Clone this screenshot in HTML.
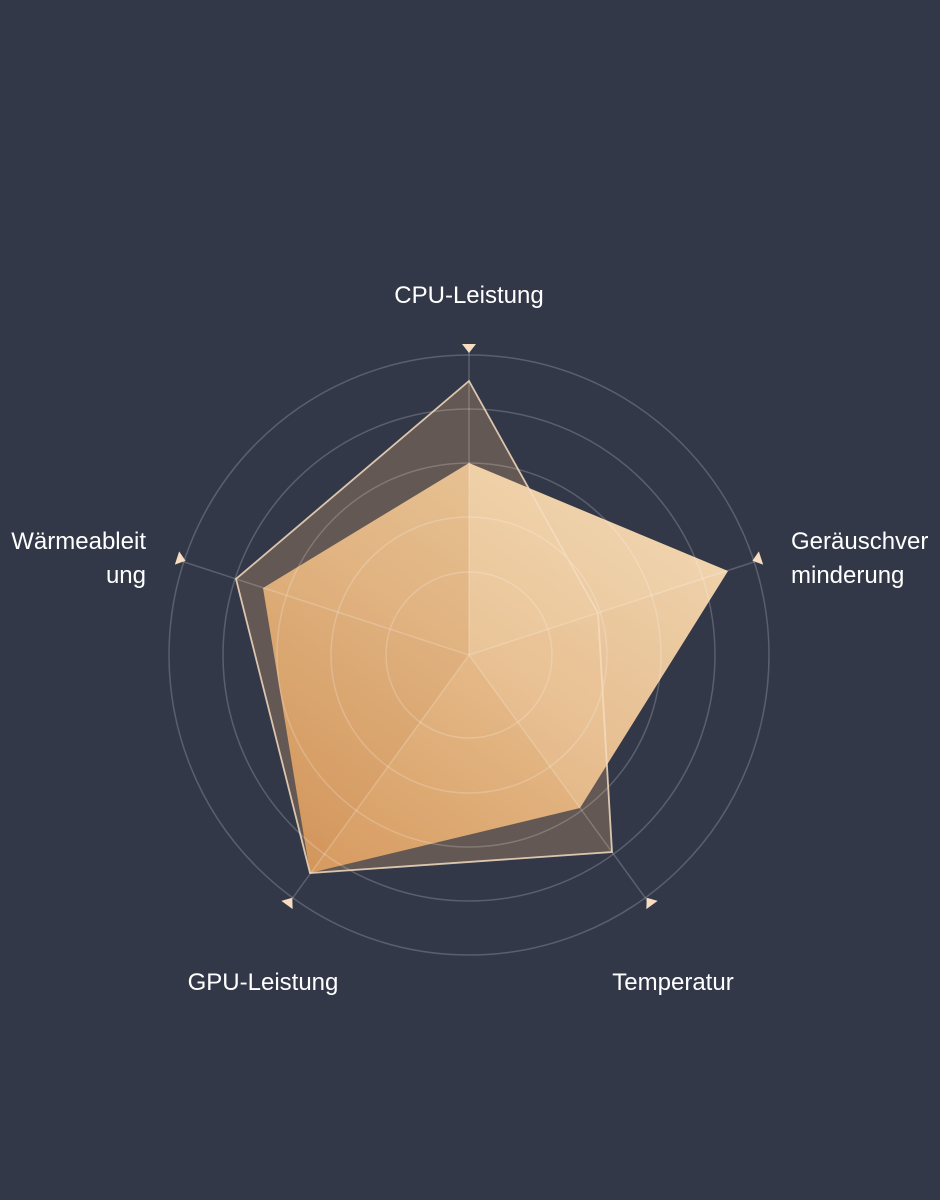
<!DOCTYPE html>
<html><head><meta charset="utf-8"><style>
html,body{margin:0;padding:0;background:#323848;}
svg{display:block}
text{font-family:"Liberation Sans","DejaVu Sans",sans-serif;font-size:24px;fill:#ffffff}
</style></head><body>
<svg width="940" height="1200" viewBox="0 0 940 1200" xmlns="http://www.w3.org/2000/svg">
<defs>
<linearGradient id="og" x1="0.1" y1="1" x2="0.9" y2="0">
<stop offset="0" stop-color="#da9c60"/>
<stop offset="0.5" stop-color="#e9bd8a"/>
<stop offset="1" stop-color="#f6d8af"/>
</linearGradient>
</defs>
<rect width="940" height="1200" fill="#323848"/>
<polygon points="469,381 598,613 612,852 310,873 236,579" fill="#665a54" fill-opacity="0.95"/>
<polygon points="469,463 728,571 580,808 310,873 263,588" fill="url(#og)" fill-opacity="0.97"/>
<polygon points="469,655 469,463 263,588" fill="#c98a50" fill-opacity="0.12"/>
<polygon points="469,655 263,588 310,873" fill="#c07c40" fill-opacity="0.12"/>
<polygon points="469,655 469,463 728,571" fill="#fff2dc" fill-opacity="0.18"/>
<polygon points="469,655 728,571 580,808" fill="#fff2dc" fill-opacity="0.12"/>
<g fill="none" stroke="#ffffff" stroke-opacity="0.2" stroke-width="1.5">
<circle cx="469" cy="655" r="300"/>
<circle cx="469" cy="655" r="246"/>
<circle cx="469" cy="655" r="192"/>
<circle cx="469" cy="655" r="138"/>
<circle cx="469" cy="655" r="83"/>
<line x1="469" y1="655" x2="469" y2="352"/>
<line x1="469" y1="655" x2="760" y2="560"/>
<line x1="469" y1="655" x2="649" y2="903"/>
<line x1="469" y1="655" x2="289" y2="903"/>
<line x1="469" y1="655" x2="178" y2="560"/>
</g>
<polygon points="469,381 598,613 612,852 310,873 236,579" fill="none" stroke="#f4dcc0" stroke-width="1.8" stroke-opacity="0.85"/>
<g fill="#f6dcc0">
<polygon points="462,344 476,344 469,353"/>
<polygon points="0,-7 0,7 9,0" transform="translate(761,558) rotate(-18) rotate(180)"/>
<polygon points="0,-7 0,7 9,0" transform="translate(652,905) rotate(54) rotate(180)"/>
<polygon points="0,-7 0,7 9,0" transform="translate(287,905) rotate(126) rotate(180)"/>
<polygon points="0,-7 0,7 9,0" transform="translate(177,558) rotate(198) rotate(180)"/>
</g>
<text x="469" y="303" text-anchor="middle">CPU-Leistung</text>
<text x="791" y="549">Geräuschver</text>
<text x="791" y="583">minderung</text>
<text x="146" y="549" text-anchor="end">Wärmeableit</text>
<text x="146" y="583" text-anchor="end">ung</text>
<text x="263" y="990" text-anchor="middle">GPU-Leistung</text>
<text x="673" y="990" text-anchor="middle">Temperatur</text>
</svg>
</body></html>
